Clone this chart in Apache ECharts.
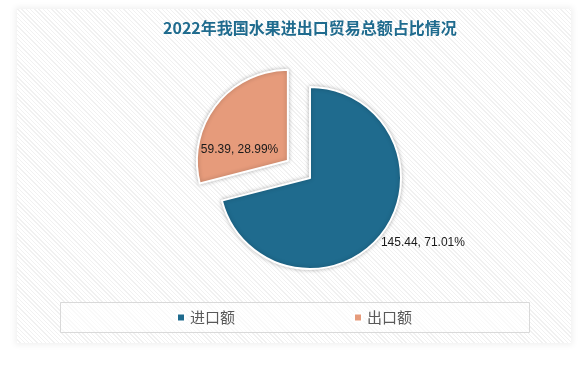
<!DOCTYPE html>
<html>
<head>
<meta charset="utf-8">
<script src="https://cdn.jsdelivr.net/npm/echarts@6/dist/echarts.min.js"></script>
<style>
  html, body { margin: 0; padding: 0; background: #ffffff; }
  #wrap { position: relative; width: 588px; height: 367px; overflow: hidden; background: #fff; }
  #panel {
    position: absolute; left: 17px; top: 9px; width: 554px; height: 334px;
    background: repeating-linear-gradient(45deg, #ffffff 0px, #ffffff 2px, #f1f1f1 2px, #f1f1f1 3px);
    box-shadow: 0 0 6px 2px rgba(0,0,0,0.06);
  }
  #chart { position: absolute; left: 0; top: 0; width: 588px; height: 367px; }
</style>
</head>
<body>
<div id="wrap">
  <div id="panel"></div>
  <div id="chart"></div>
</div>
<script>
const titleText = '2022年我国水果进出口贸易总额占比情况';
const categories = ['进口额', '出口额'];
const values = [145.44, 59.39];
const percents = ['71.01', '28.99'];
const colors = ['#1f6b8e', '#e69b7b'];

const chart = echarts.init(document.getElementById('chart'), null, { renderer: 'canvas' });

const labelText = i => values[i] + ', ' + percents[i] + '%';

const data = categories.map((name, i) => ({
  name: name,
  value: values[i],
  selected: i === 1,
  itemStyle: { color: colors[i] },
  label: i === 0
    ? { position: 'outside', offset: [-6, 9], formatter: () => labelText(0) }
    : { position: 'inside', padding: [0, 20, 0, 0], lineHeight: 38,
        formatter: () => '\n' + labelText(1) }
}));

chart.setOption({
  backgroundColor: 'transparent',
  animation: false,
  title: {
    text: titleText,
    left: 158,
    top: 15,
    textStyle: {
      fontFamily: 'Noto Sans CJK SC',
      fontSize: 16,
      fontWeight: 'bold',
      color: '#1f6b8e'
    }
  },
  graphic: [{
    type: 'rect',
    shape: { x: 60.5, y: 302.5, width: 469, height: 30 },
    style: { fill: 'rgba(255,255,255,0.6)', stroke: '#d9d9d9', lineWidth: 1 },
    z: -1
  }],
  legend: {
    data: categories,
    left: 'center',
    top: 305,
    icon: 'rect',
    itemWidth: 8,
    itemHeight: 8,
    itemGap: 118,
    textStyle: { fontFamily: 'Noto Sans CJK SC', fontSize: 15, color: '#595959' },
    selectedMode: false
  },
  series: [{
    type: 'pie',
    center: [310, 178],
    radius: [0, 91],
    startAngle: 90,
    clockwise: true,
    selectedMode: 'single',
    selectedOffset: 28,
    avoidLabelOverlap: false,
    itemStyle: {
      borderColor: '#ffffff',
      borderWidth: 2,
      shadowBlur: 4,
      shadowColor: 'rgba(0,0,0,0.25)'
    },
    label: {
      show: true,
      color: '#1a1a1a',
      fontFamily: 'Liberation Sans',
      fontSize: 12
    },
    labelLine: { show: false, length: 0, length2: 0 },
    emphasis: { disabled: true },
    data: data
  }]
});
</script>
</body>
</html>
